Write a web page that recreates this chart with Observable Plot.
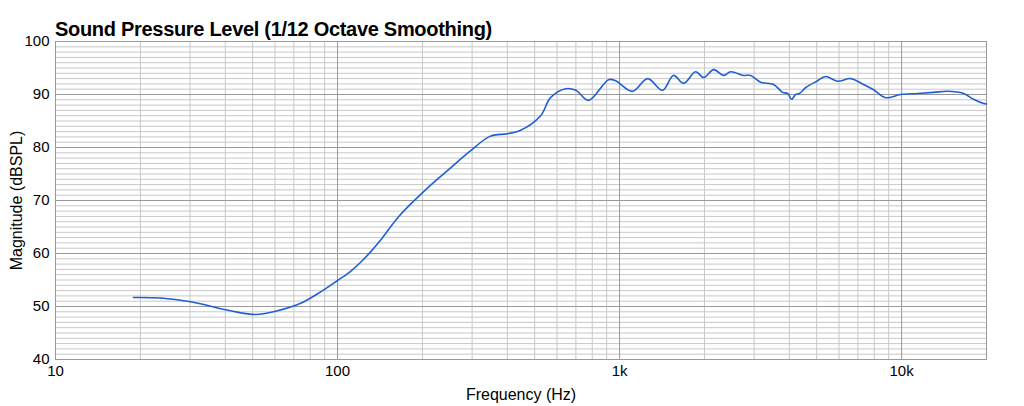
<!DOCTYPE html>
<html><head><meta charset="utf-8">
<script src="https://cdn.jsdelivr.net/npm/d3@7"></script>
<script src="https://cdn.jsdelivr.net/npm/@observablehq/plot@0.6"></script>
<style>body{margin:0;background:#fff;font-family:"Liberation Sans",Arial,sans-serif}#wrap{position:relative;width:1024px;height:406px}#title{position:absolute;left:55px;top:18px;font-weight:bold;font-size:20px;color:#000;letter-spacing:-0.3px}</style>
</head><body><div id="wrap"><div id="title">Sound Pressure Level (1/12 Octave Smoothing)</div></div>
<script>
const freqs = [18.9,23.6,30.1,41.7,51.3,60.3,74,85,100,111,120,131,141,167,213,250,295,347,400,444,525,569,644,700,776,914,968,1112,1257,1420,1553,1686,1861,1987,2155,2339,2477,2754,2917,3163,3518,3784,3945,4074,4207,4345,4568,5037,5375,5929,6595,7330,7955,8767,9909,11400,12980,14550,16590,17990,19540,20000];
const spl = [51.7,51.6,50.9,49.2,48.5,49.1,50.6,52.4,54.9,56.6,58.2,60.3,62.3,67.3,72.8,76.0,79.3,82.1,82.6,83.2,86.0,89.4,91.1,90.8,88.9,92.8,92.6,90.6,93.0,90.8,93.6,92.1,94.3,93.2,94.7,93.6,94.3,93.6,93.6,92.3,91.9,90.4,90.2,89.1,90.0,90.2,91.3,92.6,93.4,92.5,93.0,91.9,90.9,89.4,90.0,90.2,90.4,90.6,90.2,89.1,88.3,88.2];
const xTicks = [10,100,1000,10000];
const xTickLabels = ["10","100","1k","10k"];
const yTicks = [40,50,60,70,80,90,100];

const data = freqs.map((f,i)=>({f, v: spl[i]}));
const minorX = [];
for (let d=10; d<=10000; d*=10) for (let k=2;k<=9;k++) if (d*k<20000) minorX.push(d*k);
const minorY = d3.range(40,101).filter(v=>v%10!==0);

const chart = Plot.plot({
  width:1024, height:406,
  marginLeft:55, marginRight:38, marginTop:41, marginBottom:47,
  style:{fontFamily:"Liberation Sans, Arial, sans-serif", fontSize:"15px", color:"#000"},
  x:{type:"log", domain:[10,20000], ticks:xTicks, tickFormat:(d)=>xTickLabels[xTicks.indexOf(d)], tickSize:0, tickPadding:6, label:"Frequency (Hz)", labelArrow:"none", labelAnchor:"center", labelOffset:40},
  y:{domain:[40,100], ticks:yTicks, tickSize:0, tickPadding:6, label:"Magnitude (dBSPL)", labelArrow:"none", labelAnchor:"center", labelOffset:45},
  marks:[
    Plot.ruleY(minorY,{stroke:"#c8c8c8",strokeWidth:1}),
    Plot.ruleX(minorX,{stroke:"#c8c8c8",strokeWidth:1}),
    Plot.ruleY(yTicks,{stroke:"#999",strokeWidth:1}),
    Plot.ruleX(xTicks,{stroke:"#999",strokeWidth:1}),
    Plot.frame({stroke:"#999"}),
    Plot.line(data,{x:"f",y:"v",stroke:"#1f5fd6",strokeWidth:1.6,curve:"catmull-rom"})
  ]
});
chart.style.position="absolute";chart.style.left="0";chart.style.top="0";
document.getElementById("wrap").prepend(chart);
chart.querySelectorAll('[aria-label="x-axis label"] text, [aria-label="y-axis label"] text').forEach(t=>t.style.fontSize="16px");
</script></body></html>
